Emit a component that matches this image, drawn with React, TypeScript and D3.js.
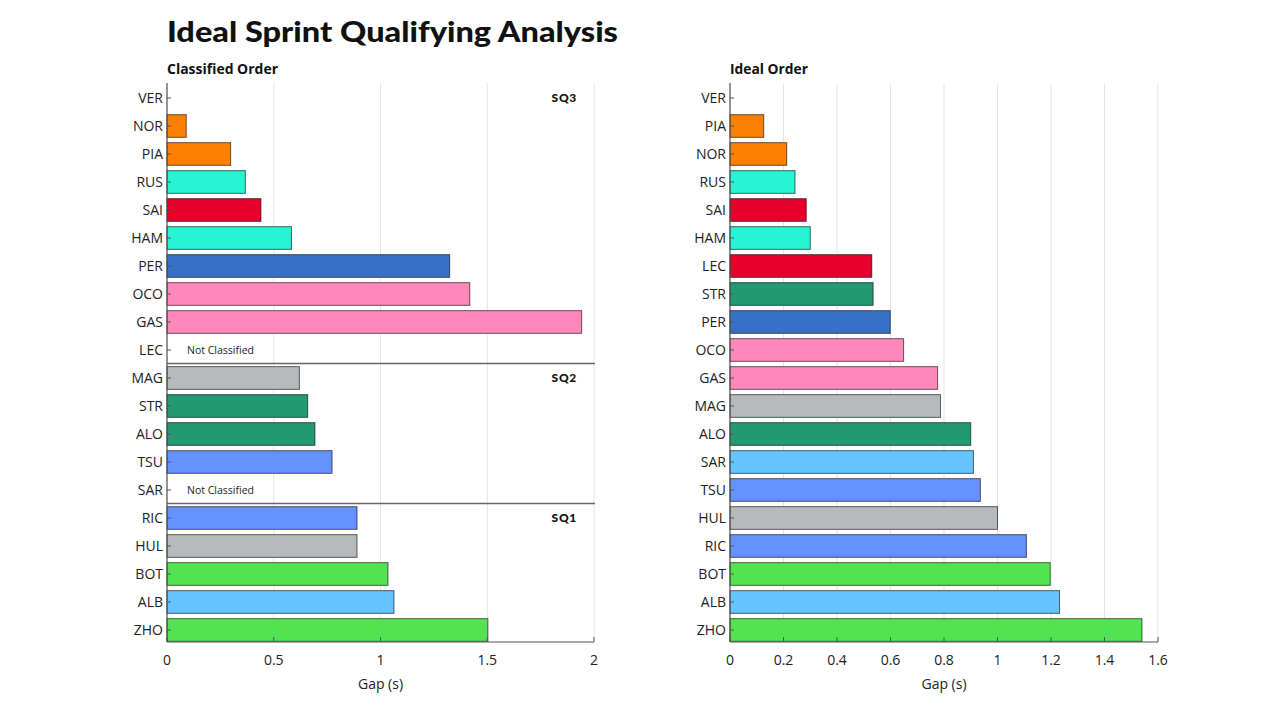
import React from "react";
import * as d3 from "d3";

const classifiedDrivers = ["VER","NOR","PIA","RUS","SAI","HAM","PER","OCO","GAS","LEC","MAG","STR","ALO","TSU","SAR","RIC","HUL","BOT","ALB","ZHO"];
const classifiedGaps: (number | null)[] = [0, 0.09, 0.298, 0.367, 0.44, 0.583, 1.324, 1.418, 1.942, null, 0.62, 0.659, 0.693, 0.773, null, 0.89, 0.89, 1.035, 1.063, 1.503];

const idealDrivers = ["VER","PIA","NOR","RUS","SAI","HAM","LEC","STR","PER","OCO","GAS","MAG","ALO","SAR","TSU","HUL","RIC","BOT","ALB","ZHO"];
const idealGaps = [0, 0.126, 0.212, 0.243, 0.285, 0.3, 0.53, 0.535, 0.599, 0.649, 0.776, 0.787, 0.9, 0.91, 0.936, 1.0, 1.108, 1.197, 1.232, 1.54];

const leftTicks = [0, 0.5, 1, 1.5, 2];
const rightTicks = [0, 0.2, 0.4, 0.6, 0.8, 1, 1.2, 1.4, 1.6];

const sessionLabels = ["SQ3", "SQ2", "SQ1"];
const sessionStartIdx = [0, 10, 15];

const teamColor: Record<string, string> = {
  VER: "#3671C6", PER: "#3671C6",
  NOR: "#FF8000", PIA: "#FF8000",
  RUS: "#27F4D2", HAM: "#27F4D2",
  SAI: "#E8002D", LEC: "#E8002D",
  OCO: "#FF87BC", GAS: "#FF87BC",
  MAG: "#B6BABD", HUL: "#B6BABD",
  STR: "#229971", ALO: "#229971",
  TSU: "#6692FF", RIC: "#6692FF",
  SAR: "#64C4FF", ALB: "#64C4FF",
  BOT: "#52E252", ZHO: "#52E252",
};

const FONT = "'Open Sans', 'Noto Sans', sans-serif";
const AXIS = "#555";
const GRID = "#e5e5e5";

type PanelProps = {
  drivers: string[];
  gaps: (number | null)[];
  ticks: number[];
  x0: number;
  x1: number;
  maxX: number;
  subtitle: string;
  subtitleLen: number;
  sessions?: boolean;
};

function Panel({ drivers, gaps, ticks, x0, x1, maxX, subtitle, subtitleLen, sessions }: PanelProps) {
  const top = 83;
  const bottom = 642;
  const x = d3.scaleLinear().domain([0, maxX]).range([x0, x1]);
  const y = d3.scaleBand<string>().domain(drivers).range([84, 644]).paddingInner(0.19).paddingOuter(0.095);
  const step = y.step();
  return (
    <g>
      <text x={x0} y={74} fontFamily={FONT} fontWeight={700} fontSize={14} fill="#111" textLength={subtitleLen} lengthAdjust="spacingAndGlyphs">{subtitle}</text>
      {ticks.map((t) => (
        <line key={"g" + t} x1={x(t)} x2={x(t)} y1={top} y2={bottom} stroke={GRID} strokeWidth={1} />
      ))}
      {drivers.map((d, i) => {
        const v = gaps[i];
        const yy = y(d)!;
        if (v === null) {
          return (
            <text key={d} x={x0 + 20} y={yy + y.bandwidth() / 2} dy="0.35em" fontFamily={FONT} fontSize={10.5} fill="#222">Not Classified</text>
          );
        }
        if (v <= 0) return null;
        return (
          <rect key={d} x={x(0)} y={yy} width={x(v) - x(0)} height={y.bandwidth()} fill={teamColor[d]} stroke="rgba(0,0,0,0.6)" strokeWidth={1} />
        );
      })}
      {sessions &&
        sessionStartIdx.map((si, k) => {
          const yc = 84 + step * si - 0.5;
          return (
            <g key={"s" + k}>
              {si > 0 && <line x1={x0} x2={x1 + 1} y1={yc} y2={yc} stroke="#666" strokeWidth={1.5} />}
              <text x={x1 - 17} y={y(drivers[si])! + y.bandwidth() / 2} dy="0.35em" textAnchor="end" fontFamily="Lato, sans-serif" fontWeight={900} fontSize={12} letterSpacing={0.7} fill="#111">{sessionLabels[k]}</text>
            </g>
          );
        })}
      <line x1={x0} x2={x0} y1={top} y2={bottom} stroke={AXIS} strokeWidth={1.2} />
      {drivers.map((d) => {
        const yc = y(d)! + y.bandwidth() / 2;
        return (
          <g key={"yt" + d}>
            <line x1={x0} x2={x0 + 4} y1={yc} y2={yc} stroke={AXIS} strokeWidth={1} />
            <text x={x0 - 4} y={yc} dy="0.35em" textAnchor="end" fontFamily={FONT} fontSize={14} fill="#222">{d}</text>
          </g>
        );
      })}
      <line x1={x0} x2={x1} y1={bottom} y2={bottom} stroke={AXIS} strokeWidth={1.2} />
      {ticks.map((t) => (
        <g key={"xt" + t}>
          <line x1={x(t)} x2={x(t)} y1={bottom} y2={bottom - 5} stroke={AXIS} strokeWidth={1} />
          <text x={x(t)} y={bottom + 18} dy="0.35em" textAnchor="middle" fontFamily={FONT} fontSize={14} fill="#222">{String(t)}</text>
        </g>
      ))}
      <text x={(x0 + x1) / 2} y={684} dy="0.35em" textAnchor="middle" fontFamily={FONT} fontSize={14} fill="#222">Gap (s)</text>
    </g>
  );
}

export default function App() {
  return (
    <div style={{ position: "absolute", left: 0, top: 0, width: 1280, height: 720, background: "#fff" }}>
      <svg width={1280} height={720} viewBox="0 0 1280 720">
        <rect x={0} y={0} width={1280} height={720} fill="#fff" />
        <text x={167} y={42} fontFamily="Lato, Inter, sans-serif" fontWeight={900} fontSize={28} fill="#111" textLength={451} lengthAdjust="spacingAndGlyphs">Ideal Sprint Qualifying Analysis</text>
        <Panel drivers={classifiedDrivers} gaps={classifiedGaps} ticks={leftTicks} x0={167} x1={594} maxX={2} subtitle="Classified Order" subtitleLen={111} sessions />
        <Panel drivers={idealDrivers} gaps={idealGaps} ticks={rightTicks} x0={730} x1={1158} maxX={1.6} subtitle="Ideal Order" subtitleLen={78} />
      </svg>
    </div>
  );
}
